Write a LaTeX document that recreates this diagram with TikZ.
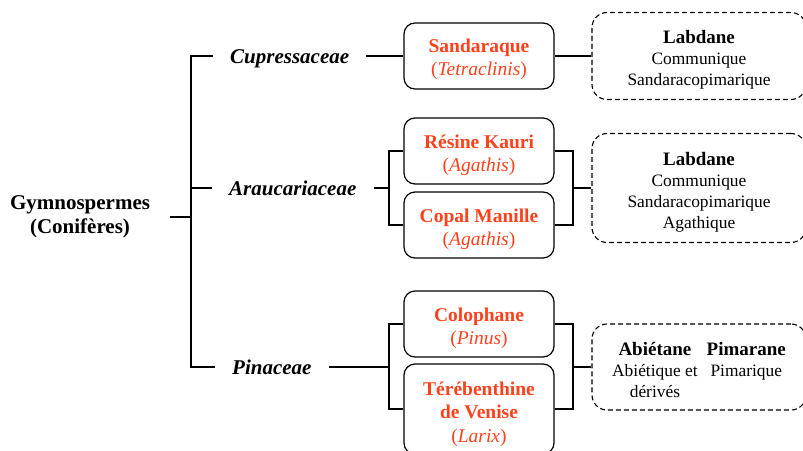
\documentclass[tikz,border=0pt]{standalone}
\usepackage{fontspec}
\setmainfont{Liberation Serif}
\definecolor{resred}{RGB}{255,66,28}
\newcommand\myhead[1]{{\fontsize{19}{21}\selectfont\bfseries #1}}
\begin{document}
\begin{tikzpicture}[x=1pt,y=-1pt,
  famname/.style={font=\fontsize{21}{24}\selectfont\bfseries\itshape, inner xsep=17pt, inner ysep=0pt,
    text height=14pt, text depth=0pt, anchor=west},
  resbox/.style={draw, line width=1.2pt, rounded corners=11pt, minimum width=150pt, inner sep=0pt},
  restext/.style={align=center, text=resred, font=\fontsize{19.5}{23.3}\selectfont, inner sep=0pt},
  structbox/.style={draw, line width=1.1pt, dash pattern=on 5pt off 3pt, rounded corners=15pt, minimum width=214pt, inner sep=0pt},
  structtext/.style={align=center, font=\fontsize{17.4}{21}\selectfont, inner sep=0pt},
  conn/.style={line width=1.1pt},
  thick conn/.style={line width=1.8pt}]
\useasboundingbox (0,0) rectangle (803,450);
\clip (0,0) rectangle (803,450);

% root
\node[font=\fontsize{21}{24}\selectfont\bfseries, align=center, inner xsep=20pt] (gym) at (80,217) {Gymnospermes\\(Conifères)};

% families
\node[famname] (cup) at (213,56) {Cupressaceae};
\node[famname] (arau) at (212,188) {Araucariaceae};
\node[famname] (pin) at (215,367) {Pinaceae};

% resin boxes
\node[resbox, minimum height=66pt] (sand) at (479,56) {};
\node[resbox, minimum height=66pt] (kauri) at (479,151) {};
\node[resbox, minimum height=66pt] (copal) at (479,225) {};
\node[resbox, minimum height=66pt] (colo) at (479,324) {};
\node[resbox, minimum height=90pt] (tere) at (479,409) {};
\node[restext] (sandt) at ([yshift=-3pt]sand.center) {\textbf{Sandaraque}\\(\textit{Tetraclinis})};
\node[restext] (kaurit) at ([yshift=-4pt]kauri.center) {\textbf{Résine Kauri}\\(\textit{Agathis})};
\node[restext] (copalt) at ([yshift=-4pt]copal.center) {\textbf{Copal Manille}\\(\textit{Agathis})};
\node[restext] (colot) at ([yshift=-4pt]colo.center) {\textbf{Colophane}\\(\textit{Pinus})};
\node[restext] (teret) at ([yshift=-5pt]tere.center) {\textbf{Térébenthine}\\\textbf{de Venise}\\(\textit{Larix})};

% structure boxes
\node[structbox, minimum height=87pt] (lab1) at (699,56) {};
\node[structbox, minimum height=109pt] (lab2) at (699,188) {};
\node[structbox, minimum height=86pt] (ab) at (699,367) {};
\node[structtext] (lab1t) at ([yshift=-4pt]lab1.center) {\myhead{Labdane}\\Communique\\Sandaracopimarique};
\node[structtext] (lab2t) at ([yshift=-4pt]lab2.center) {\myhead{Labdane}\\Communique\\Sandaracopimarique\\Agathique};
\node[structtext] (abt) at ([yshift=-5pt]ab.center) {\begin{tabular}{@{}c@{\hspace{9pt}}c@{}}\myhead{Abiétane} & \myhead{Pimarane}\\Abiétique et & Pimarique\\dérivés & \end{tabular}};

% junctions
\coordinate (trunk) at (191,217);
\coordinate (aj) at (389,188);
\coordinate (pj) at (389,367);
\coordinate (ar) at (573,188);
\coordinate (pr) at (573,367);

% connectors
\draw[thick conn] (gym.east) -- (trunk);
\draw[conn] (cup.west) -| (trunk);
\draw[conn] (pin.west) -| (trunk);
\draw[conn] (arau.west) -- (arau.west -| trunk);

\draw[thick conn] (cup.east) -- (sand.west);
\draw[thick conn] (sand.east) -- (lab1.west);

\draw[conn] (arau.east) -- (aj);
\draw[conn] (kauri.west) -| (aj);
\draw[conn] (copal.west) -| (aj);
\draw[conn] (kauri.east) -| (ar);
\draw[conn] (copal.east) -| (ar);
\draw[conn] (ar) -- (lab2.west);

\draw[conn] (pin.east) -- (pj);
\draw[conn] (colo.west) -| (pj);
\draw[conn] (tere.west) -| (pj);
\draw[conn] (colo.east) -| (pr);
\draw[conn] (tere.east) -| (pr);
\draw[conn] (pr) -- (ab.west);
\end{tikzpicture}
\end{document}
